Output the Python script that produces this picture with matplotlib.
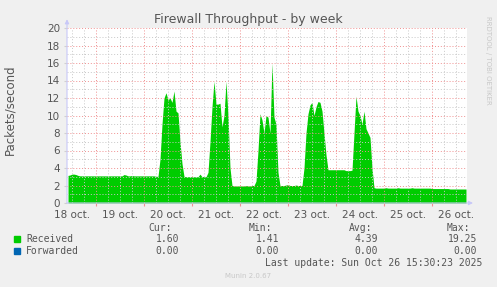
import numpy as np
import matplotlib
matplotlib.use("Agg")
import matplotlib.pyplot as plt
from matplotlib.ticker import MultipleLocator
from matplotlib.transforms import blended_transform_factory

# Data: hourly samples, hours since 18 oct. 00:00
start_hour = 10
received = [
    # 18 oct. 10h -> 19 oct. 23h (baseline ~3.1)
    3.15, 3.2, 3.3, 3.3, 3.25, 3.15, 3.1, 3.1, 3.1, 3.1, 3.1, 3.1, 3.1, 3.1,
    3.1, 3.1, 3.1, 3.1, 3.1, 3.1, 3.1, 3.1, 3.1, 3.1, 3.1, 3.1, 3.1, 3.1,
    3.25, 3.2, 3.1, 3.1, 3.15, 3.1, 3.1, 3.1, 3.1, 3.1, 3.1, 3.1, 3.1, 3.1,
    3.1, 3.1, 3.05, 3.05,
    # peak 1 (20 oct.)
    5.0, 9.0, 12.0, 12.6, 11.8, 12.0, 11.5, 12.8, 10.5, 10.3, 7.0, 4.5,
    # baseline ~3.0
    3.05, 3.0, 3.0, 3.0, 3.0, 3.0, 3.0, 3.0, 3.3, 3.0, 3.05, 3.0,
    # peak 2 (21 oct.)
    3.5, 7.0, 11.0, 13.9, 11.3, 11.3, 11.4, 8.7, 10.0, 13.9, 10.0, 4.0,
    # baseline ~2.0
    2.0, 1.95, 1.95, 1.95, 1.95, 1.95, 1.95, 2.0, 1.95, 1.95, 2.0, 2.0,
    # peak 3 (22 oct.)
    2.5, 6.0, 10.2, 9.5, 8.0, 10.0, 9.8, 8.0, 16.0, 9.8, 9.0, 3.5,
    # baseline ~2.0
    2.0, 2.0, 2.0, 2.05, 2.1, 2.0, 2.0, 2.0, 2.05, 2.0, 2.0, 2.0,
    # peak 4 (23 oct.)
    4.0, 8.0, 10.2, 11.2, 11.5, 10.0, 11.0, 11.6, 11.5, 10.5, 8.0, 5.5,
    # baseline ~3.8
    3.8, 3.8, 3.8, 3.8, 3.8, 3.8, 3.8, 3.8, 3.8, 3.7, 3.7, 3.7, 3.75,
    # peak 5 (24 oct.)
    8.0, 12.2, 10.5, 10.0, 9.0, 10.5, 8.5, 8.0, 7.5, 4.0,
    # baseline ~1.7 until end
    1.75, 1.7, 1.7, 1.7, 1.7, 1.7, 1.75, 1.7, 1.7, 1.7, 1.7, 1.7, 1.75, 1.7,
    1.7, 1.7, 1.7, 1.7, 1.7, 1.75, 1.7, 1.7, 1.7, 1.7, 1.7, 1.7, 1.7, 1.7,
    1.7, 1.65, 1.65, 1.65, 1.65, 1.65, 1.65, 1.65, 1.65, 1.65, 1.6, 1.6,
    1.6, 1.6, 1.6, 1.6, 1.6, 1.6, 1.6,
]
hours = start_hour + np.arange(len(received))
forwarded = [0.0] * len(received)

day_labels = ["18 oct.", "19 oct.", "20 oct.", "21 oct.", "22 oct.",
              "23 oct.", "24 oct.", "25 oct.", "26 oct."]
y_max = 20

legend_names = ["Received", "Forwarded"]
legend_colors = ["#00CC00", "#0066B3"]
cur_vals = ["1.60", "0.00"]
min_vals = ["1.41", "0.00"]
avg_vals = ["4.39", "0.00"]
max_vals = ["19.25", "0.00"]

W, H = 497, 287
fig = plt.figure(figsize=(W / 100, H / 100), dpi=100, facecolor="#F0F0F0")
ax = fig.add_axes([67 / W, (H - 203) / H, 400 / W, 175 / H])
ax.set_facecolor("white")

ax.fill_between(hours, received, color="#00CC00", linewidth=0)
ax.set_xlim(9.5, 209.5)
ax.set_ylim(0, y_max)

# grid
ax.xaxis.set_major_locator(MultipleLocator(24))
ax.xaxis.set_minor_locator(MultipleLocator(6))
ax.yaxis.set_major_locator(MultipleLocator(2))
ax.yaxis.set_minor_locator(MultipleLocator(1))
ax.grid(which="minor", color="#C8C8C8", linestyle=(0, (1, 2)), linewidth=0.7)
ax.grid(which="major", color="#F09090", linestyle=(0, (1, 2)), linewidth=0.7)
ax.set_axisbelow(False)

ax.set_xticklabels([])
ax.tick_params(axis="x", which="major", length=2, color="#F09090", labelbottom=False)
ax.tick_params(axis="x", which="minor", length=0)
ax.tick_params(axis="y", which="major", length=2, color="#D0D0D0",
               labelsize=7.5, labelcolor="#555555", pad=3)
ax.tick_params(axis="y", which="minor", length=0)
for s in ax.spines.values():
    s.set_visible(False)

# axis lines with arrows
arrow_col = "#C8C8F8"
ax.annotate("", xy=(0, 1.05), xytext=(0, 0), xycoords="axes fraction",
            arrowprops=dict(arrowstyle="-|>", color=arrow_col, lw=0.8,
                            mutation_scale=6, shrinkA=0, shrinkB=0),
            annotation_clip=False)
ax.annotate("", xy=(1.015, 0), xytext=(0, 0), xycoords="axes fraction",
            arrowprops=dict(arrowstyle="-|>", color=arrow_col, lw=0.8,
                            mutation_scale=6, shrinkA=0, shrinkB=0),
            annotation_clip=False)

# day labels at noon
trans = blended_transform_factory(ax.transData, ax.transAxes)
for i, lab in enumerate(day_labels):
    ax.text(i * 24 + 12, -0.04, lab, transform=trans, ha="center", va="top",
            fontsize=7.5, color="#555555")

fig.text(10 / W, 1 - 110 / H, "Packets/second", rotation=90, ha="center",
         va="center", fontsize=8.5, color="#555555")
fig.text(248 / W, 1 - 19 / H, "Firewall Throughput - by week", ha="center",
         va="center", fontsize=9, color="#555555")
fig.text(488 / W, 1 - 60 / H, "RRDTOOL / TOBI OETIKER", rotation=270,
         ha="center", va="center", fontsize=5, color="#C8C8C8")

# legend table
mono = "DejaVu Sans Mono"
tc = "#555555"
fig.text(172 / W, 1 - 228 / H, "Cur:", ha="right", va="center", family=mono, fontsize=7, color=tc)
fig.text(272 / W, 1 - 228 / H, "Min:", ha="right", va="center", family=mono, fontsize=7, color=tc)
fig.text(372 / W, 1 - 228 / H, "Avg:", ha="right", va="center", family=mono, fontsize=7, color=tc)
fig.text(470 / W, 1 - 228 / H, "Max:", ha="right", va="center", family=mono, fontsize=7, color=tc)
for i, name in enumerate(legend_names):
    yy = 1 - (239 + 12 * i) / H
    fig.patches.append(plt.Rectangle((14 / W, yy - 3 / H), 6 / W, 6 / H,
                                     transform=fig.transFigure,
                                     color=legend_colors[i]))
    fig.text(26 / W, yy, name, ha="left", va="center", family=mono, fontsize=7, color=tc)
    fig.text(179 / W, yy, cur_vals[i], ha="right", va="center", family=mono, fontsize=7, color=tc)
    fig.text(279 / W, yy, min_vals[i], ha="right", va="center", family=mono, fontsize=7, color=tc)
    fig.text(378 / W, yy, avg_vals[i], ha="right", va="center", family=mono, fontsize=7, color=tc)
    fig.text(477 / W, yy, max_vals[i], ha="right", va="center", family=mono, fontsize=7, color=tc)
fig.text(482 / W, 1 - 263 / H, "Last update: Sun Oct 26 15:30:23 2025",
         ha="right", va="center", family=mono, fontsize=7, color=tc)
fig.text(248 / W, 1 - 276 / H, "Munin 2.0.67", ha="center", va="center",
         fontsize=5, color="#C8C8C8")

fig.savefig("out.png", dpi=100, facecolor=fig.get_facecolor())
